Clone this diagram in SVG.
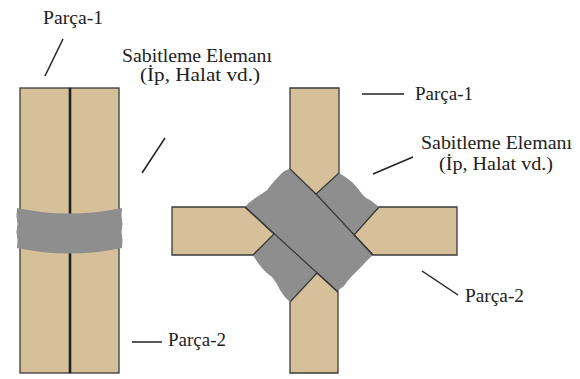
<svg xmlns="http://www.w3.org/2000/svg" width="580" height="379" viewBox="0 0 580 379">
  <style>
    .wood { fill: #D6C099; stroke: #3a3a3a; stroke-width: 1.3; stroke-linejoin: miter; }
    .rope { fill: #8E8E8E; stroke: none; }
    .edge { fill: none; stroke: #3a3a3a; stroke-width: 1.3; }
    .lead { fill: none; stroke: #222; stroke-width: 1.5; }
    .lbl  { font-family: "Liberation Serif", "Times New Roman", serif; font-size: 18px; fill: #222; }
  </style>

  <!-- Parallel joint: two boards side by side, bound by a wrap -->
  <g id="parallel-joint">
    <rect class="wood" x="20" y="88" width="50" height="285"/>
    <rect class="wood" x="70" y="88" width="49" height="285"/>
    <line x1="70" y1="88" x2="70" y2="373" stroke="#222" stroke-width="2.6"/>
    <path class="rope" d="M17,208 Q70,219 122,208 L121.5,216 L122.5,224 L121.5,232 L122.5,240 L122,248 Q70,259 17,248 L17.5,240 L16.5,232 L17.5,224 L16.5,216 Z"/>
  </g>

  <!-- Cross joint: crossing boards lashed diagonally -->
  <g id="cross-joint">
    <!-- lashing mass around the crossing -->
    <path class="rope" d="M290,169
      Q284,170 279,176 Q275,180 271,185 Q268,190 263,193 Q258,196 254,199 Q249,202 245,207
      L274,234 L253,255
      Q257,262 262,268 Q266,273 272,277 Q277,283 280,290 Q284,297 290,302
      L317,273 L338,292
      Q340,288 344,286 Q348,280 352,276 Q357,271 362,266 Q367,260 373,255
      L354,235 L379,207
      Q374,203 370,200 Q365,198 362,194 Q357,187 352,182 Q346,177 339,173
      L316,194 Z"/>
    <!-- board 1: upper and lower arms -->
    <path class="wood" d="M290,88 L339,88 L339,173 L316,194 L290,169 Z"/>
    <path class="wood" d="M290,373 L290,302 L317,273 L338,292 L338,373 Z"/>
    <!-- board 2: left and right arms -->
    <path class="wood" d="M172,207 L245,207 L274,234 L253,255 L172,255 Z"/>
    <path class="wood" d="M457,207 L379,207 L354,235 L373,255 L457,255 Z"/>
    <!-- edges of the diagonal wrap -->
    <line class="edge" x1="245" y1="207" x2="338" y2="292"/>
    <line class="edge" x1="316" y1="194" x2="373" y2="255"/>
  </g>

  <!-- Leader lines -->
  <g id="connectors">
    <line class="lead" x1="63" y1="39" x2="45" y2="76"/>
    <line class="lead" x1="165" y1="138" x2="142" y2="173"/>
    <line class="lead" x1="132" y1="342" x2="162" y2="342"/>
    <line class="lead" x1="362" y1="94" x2="404" y2="94"/>
    <line class="lead" x1="413" y1="157" x2="373" y2="174"/>
    <line class="lead" x1="422" y1="271" x2="458" y2="295"/>
  </g>

  <!-- Labels -->
  <g id="label-parca1-left">
    <text class="lbl" x="43" y="24" textLength="60" lengthAdjust="spacingAndGlyphs">Parça-1</text>
  </g>
  <g id="label-sabitleme-left">
    <text class="lbl" x="122" y="62" textLength="150" lengthAdjust="spacingAndGlyphs">Sabitleme Elemanı</text>
    <text class="lbl" x="140" y="81" textLength="120" lengthAdjust="spacingAndGlyphs">(İp, Halat vd.)</text>
  </g>
  <g id="label-parca2-left">
    <text class="lbl" x="168" y="346" textLength="58" lengthAdjust="spacingAndGlyphs">Parça-2</text>
  </g>
  <g id="label-parca1-right">
    <text class="lbl" x="415" y="100" textLength="58" lengthAdjust="spacingAndGlyphs">Parça-1</text>
  </g>
  <g id="label-sabitleme-right">
    <text class="lbl" x="421" y="149" textLength="151" lengthAdjust="spacingAndGlyphs">Sabitleme Elemanı</text>
    <text class="lbl" x="439" y="170" textLength="114" lengthAdjust="spacingAndGlyphs">(İp, Halat vd.)</text>
  </g>
  <g id="label-parca2-right">
    <text class="lbl" x="465" y="302" textLength="59" lengthAdjust="spacingAndGlyphs">Parça-2</text>
  </g>
</svg>
